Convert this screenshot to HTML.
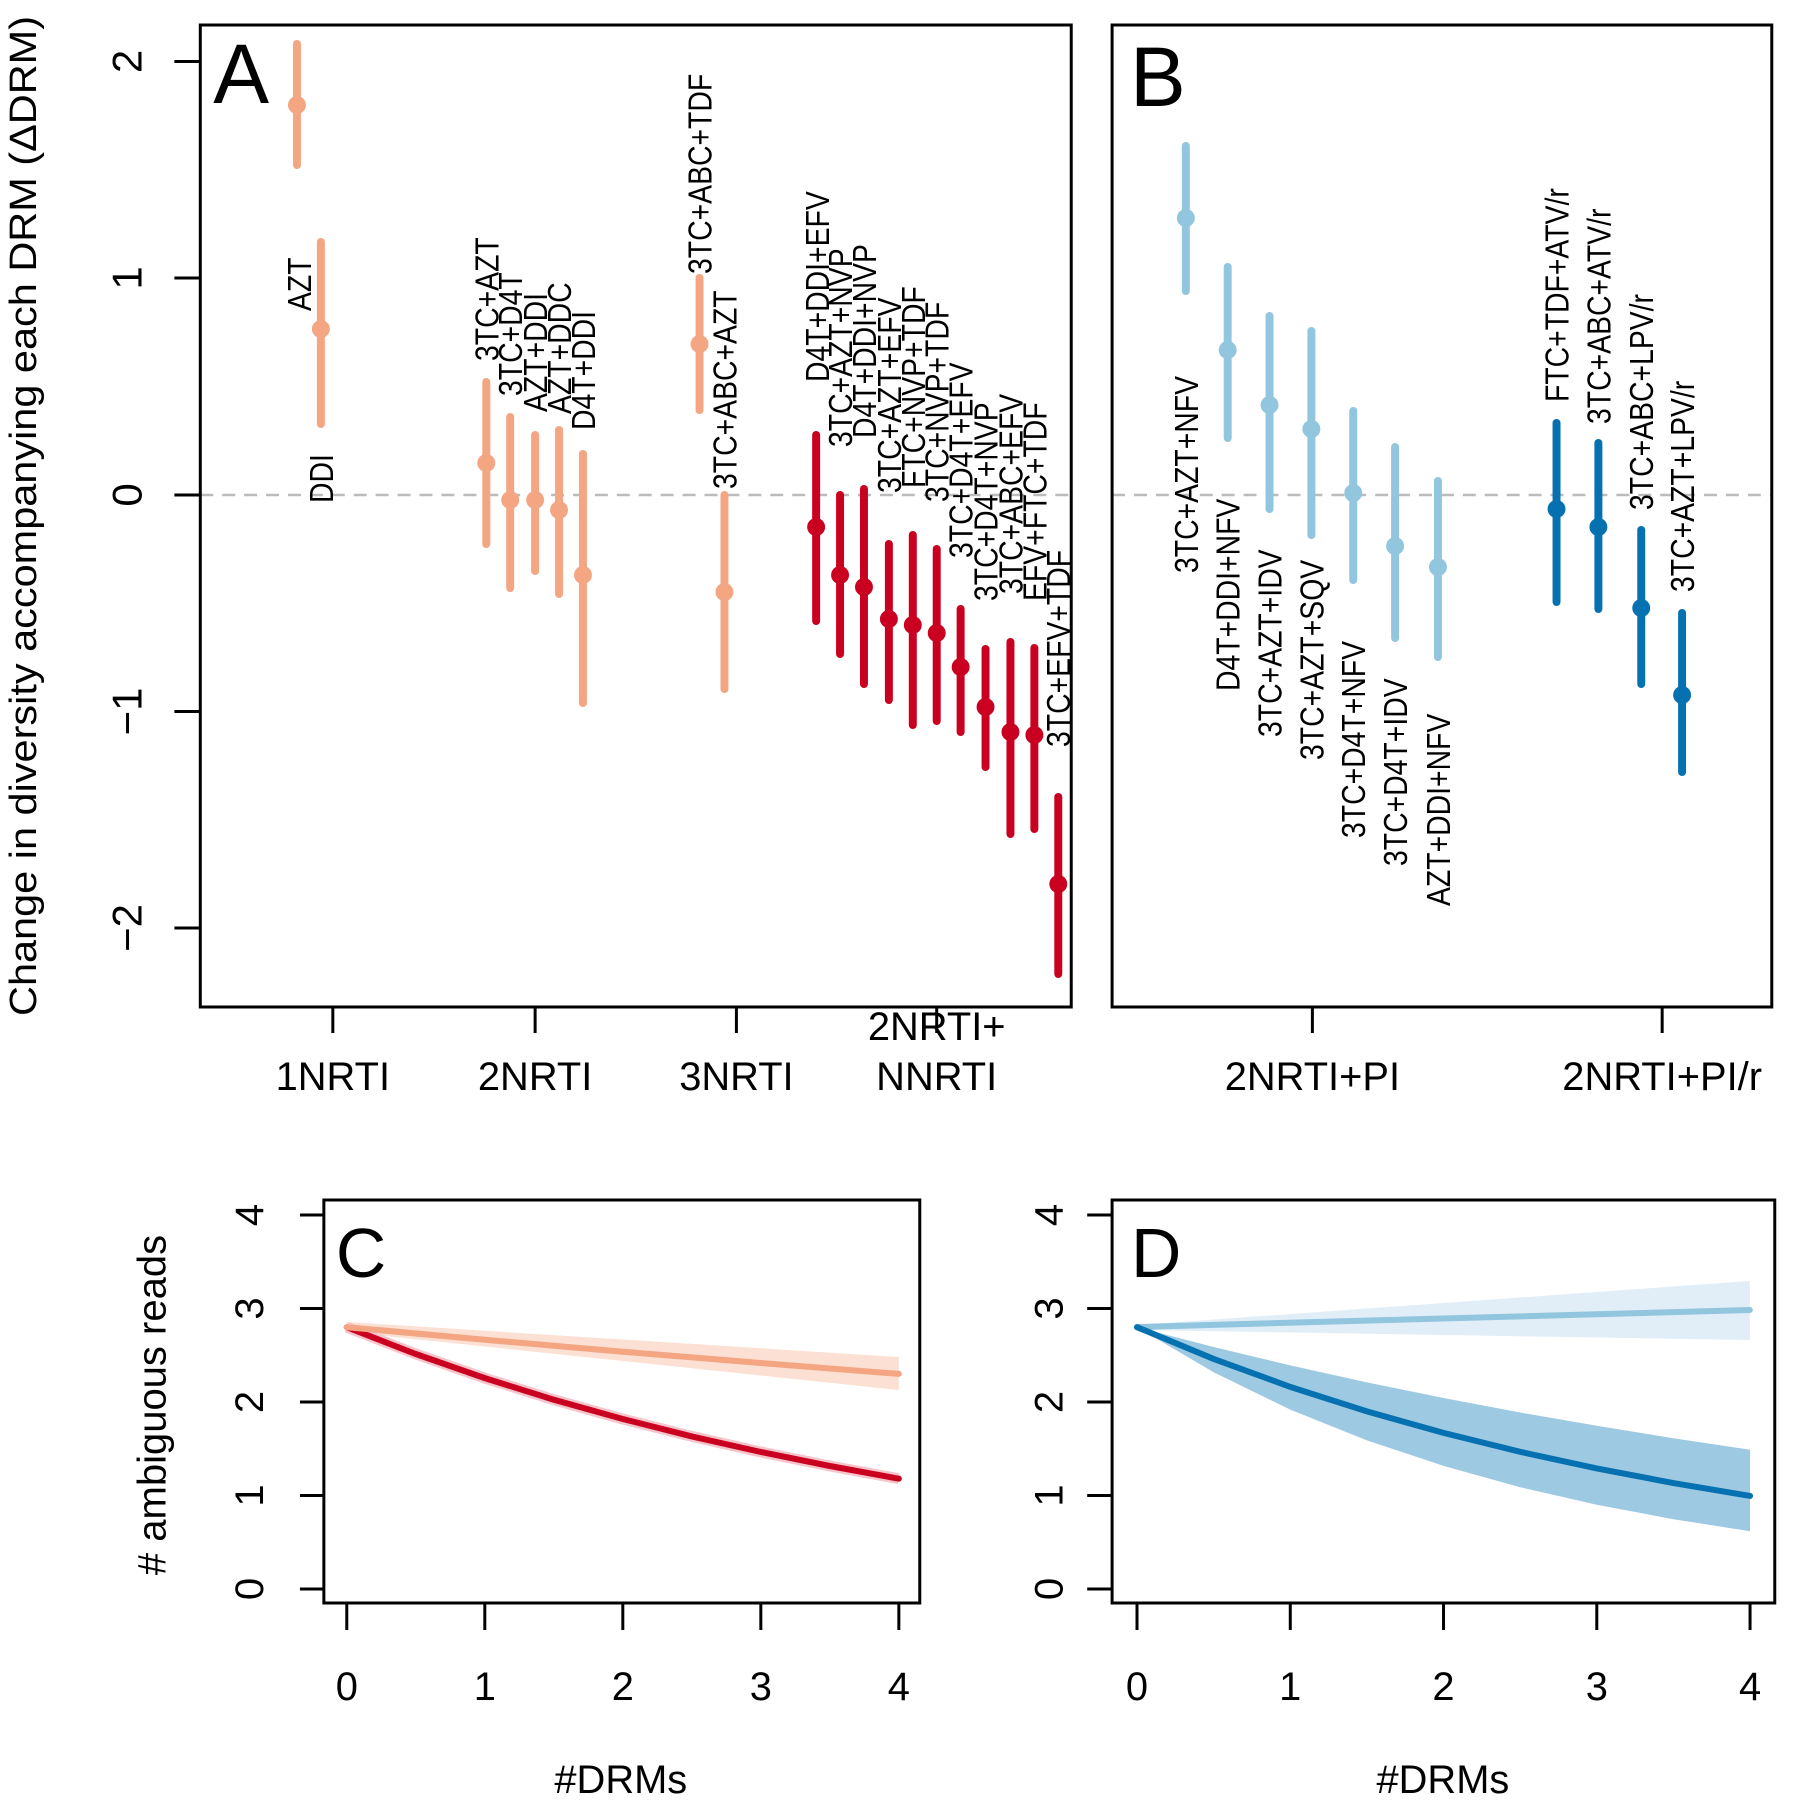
<!DOCTYPE html>
<html><head><meta charset="utf-8"><style>html,body{margin:0;padding:0;background:#fff}svg{display:block}</style></head>
<body>
<svg width="1800" height="1800" viewBox="0 0 1800 1800" xmlns="http://www.w3.org/2000/svg" font-family="Liberation Sans, sans-serif">
<rect width="1800" height="1800" fill="#fff"/>
<g transform="scale(0.9965,1)">
<line x1="201" y1="495" x2="1075" y2="495" stroke="#bbb" stroke-width="2.5" stroke-dasharray="13,9"/>
<line x1="1116" y1="495" x2="1778" y2="495" stroke="#bbb" stroke-width="2.5" stroke-dasharray="13,9"/>
<g stroke-width="8" stroke-linecap="round">
<g stroke="#f4a582" fill="#f4a582">
<line x1="298" y1="44" x2="298" y2="165"/><circle cx="298" cy="105" r="9" stroke="none"/>
<line x1="322" y1="242" x2="322" y2="424"/><circle cx="322" cy="329" r="9" stroke="none"/>
<line x1="488" y1="382" x2="488" y2="544"/><circle cx="488" cy="463" r="9" stroke="none"/>
<line x1="512" y1="417" x2="512" y2="588"/><circle cx="512" cy="500" r="9" stroke="none"/>
<line x1="537" y1="435" x2="537" y2="571"/><circle cx="537" cy="500" r="9" stroke="none"/>
<line x1="561" y1="430" x2="561" y2="594"/><circle cx="561" cy="510" r="9" stroke="none"/>
<line x1="585" y1="454" x2="585" y2="703"/><circle cx="585" cy="575" r="9" stroke="none"/>
<line x1="702" y1="278" x2="702" y2="410"/><circle cx="702" cy="344" r="9" stroke="none"/>
<line x1="727" y1="495" x2="727" y2="689"/><circle cx="727" cy="592" r="9" stroke="none"/>
</g>
<g stroke="#ca0020" fill="#ca0020">
<line x1="819" y1="435" x2="819" y2="621"/><circle cx="819" cy="527" r="9" stroke="none"/>
<line x1="843" y1="495" x2="843" y2="654"/><circle cx="843" cy="575" r="9" stroke="none"/>
<line x1="867" y1="489" x2="867" y2="684"/><circle cx="867" cy="587" r="9" stroke="none"/>
<line x1="892" y1="544" x2="892" y2="700"/><circle cx="892" cy="619" r="9" stroke="none"/>
<line x1="916" y1="535" x2="916" y2="725"/><circle cx="916" cy="625" r="9" stroke="none"/>
<line x1="940" y1="549" x2="940" y2="721"/><circle cx="940" cy="633" r="9" stroke="none"/>
<line x1="964" y1="609" x2="964" y2="732"/><circle cx="964" cy="667" r="9" stroke="none"/>
<line x1="989" y1="649" x2="989" y2="767"/><circle cx="989" cy="707" r="9" stroke="none"/>
<line x1="1014" y1="642" x2="1014" y2="834"/><circle cx="1014" cy="732" r="9" stroke="none"/>
<line x1="1038" y1="648" x2="1038" y2="829"/><circle cx="1038" cy="735" r="9" stroke="none"/>
<line x1="1062" y1="797" x2="1062" y2="974"/><circle cx="1062" cy="884" r="9" stroke="none"/>
</g>
<g stroke="#92c5de" fill="#92c5de">
<line x1="1190" y1="146" x2="1190" y2="291"/><circle cx="1190" cy="218" r="9" stroke="none"/>
<line x1="1232" y1="267" x2="1232" y2="438"/><circle cx="1232" cy="350" r="9" stroke="none"/>
<line x1="1274" y1="316" x2="1274" y2="509"/><circle cx="1274" cy="405" r="9" stroke="none"/>
<line x1="1316" y1="331" x2="1316" y2="535"/><circle cx="1316" cy="429" r="9" stroke="none"/>
<line x1="1358" y1="411" x2="1358" y2="580"/><circle cx="1358" cy="493" r="9" stroke="none"/>
<line x1="1400" y1="447" x2="1400" y2="638"/><circle cx="1400" cy="546" r="9" stroke="none"/>
<line x1="1443" y1="481" x2="1443" y2="657"/><circle cx="1443" cy="567" r="9" stroke="none"/>
</g>
<g stroke="#0571b0" fill="#0571b0">
<line x1="1562" y1="423" x2="1562" y2="602"/><circle cx="1562" cy="509" r="9" stroke="none"/>
<line x1="1604" y1="443" x2="1604" y2="609"/><circle cx="1604" cy="527" r="9" stroke="none"/>
<line x1="1647" y1="530" x2="1647" y2="684"/><circle cx="1647" cy="608" r="9" stroke="none"/>
<line x1="1688" y1="613" x2="1688" y2="772"/><circle cx="1688" cy="695" r="9" stroke="none"/>
</g>
</g>
<g font-size="33" fill="#000">
<text transform="translate(312,311) rotate(-90) scale(0.86,1)">AZT</text>
<text transform="translate(334,503) rotate(-90) scale(0.86,1)">DDI</text>
<text transform="translate(500,361) rotate(-90) scale(0.86,1)">3TC+AZT</text>
<text transform="translate(524,396) rotate(-90) scale(0.86,1)">3TC+D4T</text>
<text transform="translate(549,412) rotate(-90) scale(0.86,1)">AZT+DDI</text>
<text transform="translate(573,414) rotate(-90) scale(0.86,1)">AZT+DDC</text>
<text transform="translate(597,430) rotate(-90) scale(0.86,1)">D4T+DDI</text>
<text transform="translate(714,274) rotate(-90) scale(0.86,1)">3TC+ABC+TDF</text>
<text transform="translate(739,489) rotate(-90) scale(0.86,1)">3TC+ABC+AZT</text>
<text transform="translate(832,382) rotate(-90) scale(0.86,1)">D4T+DDI+EFV</text>
<text transform="translate(855,447) rotate(-90) scale(0.86,1)">3TC+AZT+NVP</text>
<text transform="translate(879,438) rotate(-90) scale(0.86,1)">D4T+DDI+NVP</text>
<text transform="translate(904,493) rotate(-90) scale(0.86,1)">3TC+AZT+EFV</text>
<text transform="translate(928,488) rotate(-90) scale(0.86,1)">FTC+NVP+TDF</text>
<text transform="translate(952,502) rotate(-90) scale(0.86,1)">3TC+NVP+TDF</text>
<text transform="translate(976,558) rotate(-90) scale(0.86,1)">3TC+D4T+EFV</text>
<text transform="translate(1001,601) rotate(-90) scale(0.86,1)">3TC+D4T+NVP</text>
<text transform="translate(1026,594) rotate(-90) scale(0.86,1)">3TC+ABC+EFV</text>
<text transform="translate(1050,601) rotate(-90) scale(0.86,1)">EFV+FTC+TDF</text>
<text transform="translate(1074,747) rotate(-90) scale(0.86,1)">3TC+EFV+TDF</text>
<text transform="translate(1202,573) rotate(-90) scale(0.86,1)">3TC+AZT+NFV</text>
<text transform="translate(1244,691) rotate(-90) scale(0.86,1)">D4T+DDI+NFV</text>
<text transform="translate(1286,737) rotate(-90) scale(0.86,1)">3TC+AZT+IDV</text>
<text transform="translate(1328,760) rotate(-90) scale(0.86,1)">3TC+AZT+SQV</text>
<text transform="translate(1370,838) rotate(-90) scale(0.86,1)">3TC+D4T+NFV</text>
<text transform="translate(1412,866) rotate(-90) scale(0.86,1)">3TC+D4T+IDV</text>
<text transform="translate(1455,906) rotate(-90) scale(0.86,1)">AZT+DDI+NFV</text>
<text transform="translate(1574,402) rotate(-90) scale(0.86,1)">FTC+TDF+ATV/r</text>
<text transform="translate(1616,424) rotate(-90) scale(0.86,1)">3TC+ABC+ATV/r</text>
<text transform="translate(1659,510) rotate(-90) scale(0.86,1)">3TC+ABC+LPV/r</text>
<text transform="translate(1700,592) rotate(-90) scale(0.86,1)">3TC+AZT+LPV/r</text>
</g>
<rect x="201" y="25" width="874" height="982" fill="none" stroke="#000" stroke-width="3"/>
<rect x="1116" y="25" width="662" height="982" fill="none" stroke="#000" stroke-width="3"/>
<g stroke="#000" stroke-width="3">
<line x1="175" y1="61.5" x2="201" y2="61.5"/><line x1="175" y1="278" x2="201" y2="278"/><line x1="175" y1="495" x2="201" y2="495"/><line x1="175" y1="711.5" x2="201" y2="711.5"/><line x1="175" y1="928" x2="201" y2="928"/>
<line x1="334" y1="1007" x2="334" y2="1033"/><line x1="537" y1="1007" x2="537" y2="1033"/><line x1="739" y1="1007" x2="739" y2="1033"/><line x1="940" y1="1007" x2="940" y2="1033"/>
<line x1="1317" y1="1007" x2="1317" y2="1033"/><line x1="1668" y1="1007" x2="1668" y2="1033"/>
</g>
<g font-size="42" text-anchor="middle">
<text transform="translate(142,61.5) rotate(-90)">2</text>
<text transform="translate(142,278) rotate(-90)">1</text>
<text transform="translate(142,495) rotate(-90)">0</text>
<text transform="translate(142,711.5) rotate(-90)">−1</text>
<text transform="translate(142,928) rotate(-90)">−2</text>
</g>
<g font-size="40" text-anchor="middle">
<text x="334" y="1090">1NRTI</text>
<text x="537" y="1090">2NRTI</text>
<text x="739" y="1090">3NRTI</text>
<text x="940" y="1040">2NRTI+</text>
<text x="940" y="1090">NNRTI</text>
<text x="1317" y="1090">2NRTI+PI</text>
<text x="1668" y="1090">2NRTI+PI/r</text>
</g>
<text transform="translate(36,516) rotate(-90)" font-size="38" text-anchor="middle" textLength="1000" lengthAdjust="spacingAndGlyphs">Change in diversity accompanying each DRM (ΔDRM)</text>
<text x="214" y="103" font-size="84">A</text>
<text x="1134" y="106" font-size="84">B</text>
<polygon points="348,1322 902,1357 902,1390 348,1332" fill="#fbe0d3"/>
<polyline points="348,1327.2 417.25,1354 486.5,1378.1 555.75,1399.7 625,1419 694.25,1436.4 763.5,1452 832.75,1466 902,1478.7" fill="none" stroke="#f6c5cc" stroke-width="11"/>
<polyline points="348,1327.2 417.25,1354 486.5,1378.1 555.75,1399.7 625,1419 694.25,1436.4 763.5,1452 832.75,1466 902,1478.7" fill="none" stroke="#ca0020" stroke-width="6" stroke-linecap="round"/>
<polyline points="348,1327.2 486.5,1339.8 625,1351.7 763.5,1363 902,1373.9" fill="none" stroke="#f4a582" stroke-width="6" stroke-linecap="round"/>
<rect x="325" y="1200" width="598" height="403" fill="none" stroke="#000" stroke-width="3"/>
<g stroke="#000" stroke-width="3">
<line x1="301" y1="1215" x2="325" y2="1215"/><line x1="301" y1="1308.5" x2="325" y2="1308.5"/><line x1="301" y1="1402" x2="325" y2="1402"/><line x1="301" y1="1495.5" x2="325" y2="1495.5"/><line x1="301" y1="1589" x2="325" y2="1589"/>
<line x1="348" y1="1603" x2="348" y2="1630"/><line x1="486.5" y1="1603" x2="486.5" y2="1630"/><line x1="625" y1="1603" x2="625" y2="1630"/><line x1="763.5" y1="1603" x2="763.5" y2="1630"/><line x1="902" y1="1603" x2="902" y2="1630"/>
</g>
<g font-size="40" text-anchor="middle">
<text transform="translate(264,1215) rotate(-90)">4</text>
<text transform="translate(264,1308.5) rotate(-90)">3</text>
<text transform="translate(264,1402) rotate(-90)">2</text>
<text transform="translate(264,1495.5) rotate(-90)">1</text>
<text transform="translate(264,1589) rotate(-90)">0</text>
<text x="348" y="1700">0</text><text x="486.5" y="1700">1</text><text x="625" y="1700">2</text><text x="763.5" y="1700">3</text><text x="902" y="1700">4</text>
<text x="623" y="1793">#DRMs</text>
<text transform="translate(166,1405) rotate(-90)"># ambiguous reads</text>
</g>
<text x="337" y="1277" font-size="70">C</text>
<polygon points="1141,1325 1756,1281 1756,1340 1141,1330" fill="#e2eef7"/>
<polygon points="1141,1327.2 1217.9,1347 1294.8,1365.4 1371.7,1382.4 1448.6,1398 1525.5,1412.5 1602.4,1425.8 1679.3,1438.3 1756.2,1449.7 1756.2,1531.2 1679.3,1519.2 1602.4,1504.7 1525.5,1487.2 1448.6,1465.9 1371.7,1440.4 1294.8,1409.6 1217.9,1372.3" fill="#9ec9e2"/>
<line x1="1141" y1="1327" x2="1756" y2="1310" stroke="#92c5de" stroke-width="6" stroke-linecap="round"/>
<polyline points="1141,1327.2 1217.9,1358.9 1294.8,1386.9 1371.7,1411.4 1448.6,1432.9 1525.5,1451.8 1602.4,1468.4 1679.3,1483.1 1756.2,1495.9" fill="none" stroke="#0571b0" stroke-width="6" stroke-linecap="round"/>
<rect x="1116" y="1200" width="665" height="403" fill="none" stroke="#000" stroke-width="3"/>
<g stroke="#000" stroke-width="3">
<line x1="1091" y1="1215" x2="1116" y2="1215"/><line x1="1091" y1="1308.5" x2="1116" y2="1308.5"/><line x1="1091" y1="1402" x2="1116" y2="1402"/><line x1="1091" y1="1495.5" x2="1116" y2="1495.5"/><line x1="1091" y1="1589" x2="1116" y2="1589"/>
<line x1="1141" y1="1603" x2="1141" y2="1630"/><line x1="1294.8" y1="1603" x2="1294.8" y2="1630"/><line x1="1448.6" y1="1603" x2="1448.6" y2="1630"/><line x1="1602.4" y1="1603" x2="1602.4" y2="1630"/><line x1="1756.2" y1="1603" x2="1756.2" y2="1630"/>
</g>
<g font-size="40" text-anchor="middle">
<text transform="translate(1066,1215) rotate(-90)">4</text>
<text transform="translate(1066,1308.5) rotate(-90)">3</text>
<text transform="translate(1066,1402) rotate(-90)">2</text>
<text transform="translate(1066,1495.5) rotate(-90)">1</text>
<text transform="translate(1066,1589) rotate(-90)">0</text>
<text x="1141" y="1700">0</text><text x="1294.8" y="1700">1</text><text x="1448.6" y="1700">2</text><text x="1602.4" y="1700">3</text><text x="1756.2" y="1700">4</text>
<text x="1448" y="1793">#DRMs</text>
</g>
<text x="1135" y="1277" font-size="70">D</text>
</g>
</svg>
</body></html>
